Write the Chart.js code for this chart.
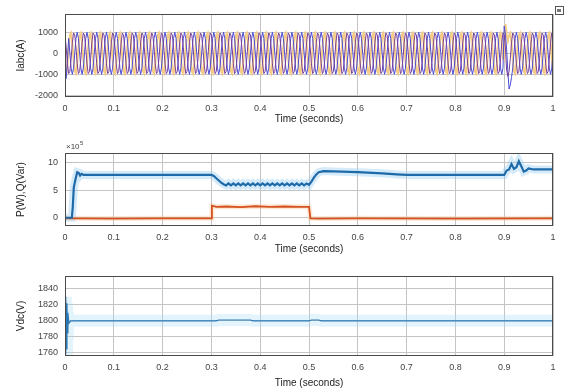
<!DOCTYPE html>
<html>
<head>
<meta charset="utf-8">
<script src="https://cdn.jsdelivr.net/npm/chart.js@4.4.0/dist/chart.umd.min.js"></script>
<style>
body { margin: 0; background: #fff; }
#wrap { position: relative; width: 564px; height: 392px; }
canvas { position: absolute; left: 0; }
</style>
</head>
<body>
<div id="wrap">
<canvas id="iabc" width="564" height="128" style="top:0px"></canvas>
<canvas id="pq" width="564" height="130" style="top:128px"></canvas>
<canvas id="vdc" width="564" height="134" style="top:258px"></canvas>
</div>
<script>
// x axis (seconds)
const X_TICKS = [0, 0.1, 0.2, 0.3, 0.4, 0.5, 0.6, 0.7, 0.8, 0.9, 1];
const X_TICK_LABELS = ['0', '0.1', '0.2', '0.3', '0.4', '0.5', '0.6', '0.7', '0.8', '0.9', '1'];

// three phase currents, one sample every 2.5 ms
const IABC_DT = 0.0025;
const IA = [
	-1100,-1200,-300,707,0,-707,-1000,-707,0,707,1000,707,0,-707,-1000,-707,
	0,707,1000,707,0,-707,-1000,-707,0,707,1000,707,0,-707,-1000,-707,
	0,707,1000,707,0,-707,-1000,-707,0,707,1000,707,0,-707,-1000,-707,
	0,707,1000,707,0,-707,-1000,-707,0,707,1000,707,0,-707,-1000,-707,
	0,707,1000,707,0,-707,-1000,-707,0,707,1000,707,0,-707,-1000,-707,
	0,707,1000,707,0,-707,-1000,-707,0,707,1000,707,0,-707,-1000,-707,
	0,707,1000,707,0,-707,-1000,-707,0,707,1000,707,0,-707,-1000,-707,
	0,707,1000,707,0,-707,-1000,-707,0,707,1000,707,0,-707,-1000,-707,
	0,707,1000,707,0,-707,-1000,-707,0,707,1000,707,0,-707,-1000,-707,
	0,707,1000,707,0,-707,-1000,-707,0,707,1000,707,0,-707,-1000,-707,
	0,707,1000,707,0,-707,-1000,-707,0,707,1000,707,0,-707,-1000,-707,
	0,707,1000,707,0,-707,-1000,-707,0,707,1000,707,0,-707,-1000,-707,
	0,707,1000,707,0,-707,-1000,-707,0,707,1000,707,0,-707,-1000,-707,
	0,707,1000,707,0,-707,-1000,-707,0,707,1000,707,0,-707,-1000,-707,
	0,707,1000,707,0,-707,-1000,-707,0,707,1000,707,0,-707,-1000,-707,
	0,707,1000,707,0,-707,-1000,-707,0,707,1000,707,0,-707,-1000,-707,
	0,707,1000,707,0,-707,-1000,-707,0,707,1000,707,0,-707,-1000,-707,
	0,707,1000,707,0,-707,-1000,-707,0,707,1000,707,0,-707,-1000,-707,
	0,707,1000,707,0,-707,-1000,-707,0,707,1000,707,0,-707,-1000,-707,
	0,707,1000,707,0,-707,-1000,-707,0,707,1000,707,0,-707,-1000,-707,
	0,707,1000,707,0,-707,-1000,-707,0,707,1000,707,0,-707,-1000,-707,
	0,707,1000,707,0,-707,-1000,-707,0,707,1000,707,0,-707,-1000,-707,
	0,707,1000,707,0,-707,-1000,-707,1300,900,200,-900,-1700,-1500,-1150,-707,
	0,707,1000,707,0,-707,-1000,-707,0,707,1000,707,0,-707,-1000,-707,
	0,707,1000,707,0,-707,-1000,-707,0,707,1000,707,0,-707,-1000,-707,
	0
];
const IB = [
	-866,-966,-500,259,866,966,500,-259,-866,-966,-500,259,866,966,500,-259,
	-866,-966,-500,259,866,966,500,-259,-866,-966,-500,259,866,966,500,-259,
	-866,-966,-500,259,866,966,500,-259,-866,-966,-500,259,866,966,500,-259,
	-866,-966,-500,259,866,966,500,-259,-866,-966,-500,259,866,966,500,-259,
	-866,-966,-500,259,866,966,500,-259,-866,-966,-500,259,866,966,500,-259,
	-866,-966,-500,259,866,966,500,-259,-866,-966,-500,259,866,966,500,-259,
	-866,-966,-500,259,866,966,500,-259,-866,-966,-500,259,866,966,500,-259,
	-866,-966,-500,259,866,966,500,-259,-866,-966,-500,259,866,966,500,-259,
	-866,-966,-500,259,866,966,500,-259,-866,-966,-500,259,866,966,500,-259,
	-866,-966,-500,259,866,966,500,-259,-866,-966,-500,259,866,966,500,-259,
	-866,-966,-500,259,866,966,500,-259,-866,-966,-500,259,866,966,500,-259,
	-866,-966,-500,259,866,966,500,-259,-866,-966,-500,259,866,966,500,-259,
	-866,-966,-500,259,866,966,500,-259,-866,-966,-500,259,866,966,500,-259,
	-866,-966,-500,259,866,966,500,-259,-866,-966,-500,259,866,966,500,-259,
	-866,-966,-500,259,866,966,500,-259,-866,-966,-500,259,866,966,500,-259,
	-866,-966,-500,259,866,966,500,-259,-866,-966,-500,259,866,966,500,-259,
	-866,-966,-500,259,866,966,500,-259,-866,-966,-500,259,866,966,500,-259,
	-866,-966,-500,259,866,966,500,-259,-866,-966,-500,259,866,966,500,-259,
	-866,-966,-500,259,866,966,500,-259,-866,-966,-500,259,866,966,500,-259,
	-866,-966,-500,259,866,966,500,-259,-866,-966,-500,259,866,966,500,-259,
	-866,-966,-500,259,866,966,500,-259,-866,-966,-500,259,866,966,500,-259,
	-866,-966,-500,259,866,966,500,-259,-866,-966,-500,259,866,966,500,-259,
	-866,-966,-500,259,866,966,500,-259,-300,1400,900,600,866,966,500,-259,
	-866,-966,-500,259,866,966,500,-259,-866,-966,-500,259,866,966,500,-259,
	-866,-966,-500,259,866,966,500,-259,-866,-966,-500,259,866,966,500,-259,
	-866
];
const IC = [
	866,259,-500,-966,-866,-259,500,966,866,259,-500,-966,-866,-259,500,966,
	866,259,-500,-966,-866,-259,500,966,866,259,-500,-966,-866,-259,500,966,
	866,259,-500,-966,-866,-259,500,966,866,259,-500,-966,-866,-259,500,966,
	866,259,-500,-966,-866,-259,500,966,866,259,-500,-966,-866,-259,500,966,
	866,259,-500,-966,-866,-259,500,966,866,259,-500,-966,-866,-259,500,966,
	866,259,-500,-966,-866,-259,500,966,866,259,-500,-966,-866,-259,500,966,
	866,259,-500,-966,-866,-259,500,966,866,259,-500,-966,-866,-259,500,966,
	866,259,-500,-966,-866,-259,500,966,866,259,-500,-966,-866,-259,500,966,
	866,259,-500,-966,-866,-259,500,966,866,259,-500,-966,-866,-259,500,966,
	866,259,-500,-966,-866,-259,500,966,866,259,-500,-966,-866,-259,500,966,
	866,259,-500,-966,-866,-259,500,966,866,259,-500,-966,-866,-259,500,966,
	866,259,-500,-966,-866,-259,500,966,866,259,-500,-966,-866,-259,500,966,
	866,259,-500,-966,-866,-259,500,966,866,259,-500,-966,-866,-259,500,966,
	866,259,-500,-966,-866,-259,500,966,866,259,-500,-966,-866,-259,500,966,
	866,259,-500,-966,-866,-259,500,966,866,259,-500,-966,-866,-259,500,966,
	866,259,-500,-966,-866,-259,500,966,866,259,-500,-966,-866,-259,500,966,
	866,259,-500,-966,-866,-259,500,966,866,259,-500,-966,-866,-259,500,966,
	866,259,-500,-966,-866,-259,500,966,866,259,-500,-966,-866,-259,500,966,
	866,259,-500,-966,-866,-259,500,966,866,259,-500,-966,-866,-259,500,966,
	866,259,-500,-966,-866,-259,500,966,866,259,-500,-966,-866,-259,500,966,
	866,259,-500,-966,-866,-259,500,966,866,259,-500,-966,-866,-259,500,966,
	866,259,-500,-966,-866,-259,500,966,866,259,-500,-966,-866,-259,500,966,
	866,259,-500,-966,-866,-259,500,966,866,259,-800,-1100,-866,-259,500,966,
	866,259,-500,-966,-866,-259,500,966,866,259,-500,-966,-866,-259,500,966,
	866,259,-500,-966,-866,-259,500,966,866,259,-500,-966,-866,-259,500,966,
	866
];
const IABC_TICKS = [-2000, -1000, 0, 1000];

// active / reactive power (x 1e5)
const P_TIME = [0, 0.014, 0.016, 0.018, 0.02, 0.022, 0.025, 0.028, 0.031, 0.034, 0.038, 0.1, 0.2, 0.3, 0.305, 0.31, 0.315, 0.32, 0.325,
	0.33, 0.335, 0.34, 0.345, 0.35, 0.355, 0.36, 0.365, 0.37, 0.375, 0.38, 0.385, 0.39, 0.395, 0.4, 0.405, 0.41, 0.415,
	0.42, 0.425, 0.43, 0.435, 0.44, 0.445, 0.45, 0.455, 0.46, 0.465, 0.47, 0.475, 0.48, 0.485, 0.49, 0.495,
	0.5, 0.505, 0.51, 0.515, 0.52, 0.53, 0.55, 0.6, 0.65, 0.68, 0.7, 0.8, 0.9, 0.905, 0.91, 0.915, 0.92, 0.925, 0.93, 0.935,
	0.94, 0.945, 0.95, 0.96, 1.0];
const P_VALUES = [0, 0, 2, 5.5, 6.4, 7.2, 8.3, 8.2, 7.7, 8.0, 7.8, 7.8, 7.8, 7.8, 7.6, 7.2, 6.8, 6.4, 6.1,
	5.9, 6.25, 5.9, 6.25, 5.9, 6.25, 5.9, 6.25, 5.9, 6.25, 5.9, 6.25, 5.9, 6.25, 5.9, 6.25, 5.9, 6.25,
	5.9, 6.25, 5.9, 6.25, 5.9, 6.25, 5.9, 6.25, 5.9, 6.25, 5.9, 6.25, 5.9, 6.25, 5.9, 6.25,
	6.0, 6.6, 7.3, 7.9, 8.3, 8.5, 8.45, 8.3, 8.1, 7.9, 7.8, 7.8, 7.8, 8.6, 8.8, 9.8, 8.9, 9.2, 10.3, 9.4,
	8.4, 8.6, 9.0, 8.8, 8.8];
const Q_TIME = [0, 0.1, 0.2, 0.3, 0.301, 0.31, 0.33, 0.36, 0.39, 0.42, 0.45, 0.48, 0.5, 0.503, 0.52, 0.6, 0.8, 1.0];
const Q_VALUES = [-0.1, -0.15, -0.1, -0.1, 2.2, 2.0, 2.05, 1.95, 2.1, 2.0, 2.05, 2.0, 2.0, -0.1, -0.15, -0.1, -0.15, -0.1];
const PQ_TICKS = [0, 5, 10];

// dc link voltage
const VDC_TIME = [0, 0.001, 0.002, 0.003, 0.004, 0.005, 0.006, 0.008, 0.012, 0.31, 0.315, 0.38, 0.385, 0.5, 0.505, 0.52, 0.525, 1.0];
const VDC_VALUES = [1800, 1758, 1830, 1765, 1822, 1785, 1810, 1797, 1800, 1800, 1801, 1801, 1800, 1800, 1801, 1801, 1800, 1800];
const VDC_TICKS = [1760, 1780, 1800, 1820, 1840];

const FONT = 'Liberation Sans, Arial, sans-serif';
const TEXT_COLOR = '#444444';
const GRID_COLOR = '#c4c4c4';

function to_points(times, values) {
	return values.map((v, i) => ({ x: times[i], y: v }));
}

function sampled_points(values, dt) {
	return values.map((v, i) => ({ x: i * dt, y: v }));
}

// axes box like matlab
const boxPlugin = {
	id: 'box',
	afterDraw(chart) {
		const a = chart.chartArea;
		const ctx = chart.ctx;
		ctx.save();
		ctx.strokeStyle = '#4a4a4a';
		ctx.lineWidth = 1;
		ctx.strokeRect(Math.round(a.left) + 0.5, Math.round(a.top) + 0.5, Math.round(a.width) - 1, Math.round(a.height) - 1);
		ctx.restore();
	}
};

function make_config(datasets, o) {
	return {
		type: 'line',
		data: { datasets: datasets },
		options: {
			responsive: false,
			animation: false,
			events: [],
			layout: { padding: { top: o.top, right: 11, left: 0, bottom: 0 } },
			plugins: { legend: { display: false }, tooltip: { enabled: false } },
			elements: { point: { radius: 0 }, line: { tension: 0 } },
			scales: {
				x: {
					type: 'linear',
					min: 0,
					max: 1,
					afterBuildTicks: (axis) => { axis.ticks = X_TICKS.map((v) => ({ value: v })); },
					afterFit: (axis) => { axis.height = o.xHeight; },
					grid: { color: GRID_COLOR, drawTicks: false },
					border: { display: false },
					ticks: {
						padding: 6,
						maxRotation: 0,
						color: TEXT_COLOR,
						font: { family: FONT, size: 9 },
						callback: (v, i) => X_TICK_LABELS[i],
					},
					title: {
						display: true,
						text: 'Time (seconds)',
						color: '#222',
						font: { family: FONT, size: 10 },
						padding: { top: 0, bottom: o.titlePad },
					},
				},
				y: {
					min: o.yMin,
					max: o.yMax,
					afterBuildTicks: (axis) => { axis.ticks = o.yTicks.map((v) => ({ value: v })); },
					afterFit: (axis) => { axis.width = 65; },
					grid: { color: GRID_COLOR, drawTicks: false },
					border: { display: false },
					ticks: {
						padding: 7,
						color: TEXT_COLOR,
						font: { family: FONT, size: 9 },
						callback: (v) => String(v),
					},
					title: {
						display: true,
						text: o.yTitle,
						color: '#222',
						font: { family: FONT, size: 10 },
						padding: { top: 15, bottom: 0 },
					},
				},
			},
		},
		plugins: [boxPlugin].concat(o.plugins || []),
	};
}

// little figure button in the corner
const cornerPlugin = {
	id: 'corner',
	afterDraw(chart) {
		const ctx = chart.ctx;
		ctx.save();
		ctx.strokeStyle = '#555';
		ctx.lineWidth = 1;
		ctx.strokeRect(555.5, 6.5, 8, 8);
		ctx.fillStyle = '#777';
		ctx.fillRect(557, 9, 4, 3);
		ctx.restore();
	}
};

// exponent label above the power axis
const exponentPlugin = {
	id: 'exponent',
	afterDraw(chart) {
		const ctx = chart.ctx;
		const a = chart.chartArea;
		ctx.save();
		ctx.fillStyle = TEXT_COLOR;
		ctx.textBaseline = 'alphabetic';
		ctx.font = '8px ' + FONT;
		ctx.fillText('\u00d710', a.left + 1, a.top - 4);
		const w = ctx.measureText('\u00d710').width;
		ctx.font = '6px ' + FONT;
		ctx.fillText('5', a.left + 1 + w + 0.5, a.top - 8);
		ctx.restore();
	}
};

const config_iabc = make_config([
	{ data: sampled_points(IC, IABC_DT), borderColor: '#7a3f96', borderWidth: 1 },
	{ data: sampled_points(IA, IABC_DT), borderColor: '#4a4ad6', borderWidth: 1 },
	{ data: sampled_points(IB, IABC_DT), borderColor: '#f4cc86', borderWidth: 2 },
], { top: 14, xHeight: 31, titlePad: 3, yMin: -2080, yMax: 1870, yTicks: IABC_TICKS, yTitle: 'Iabc(A)', plugins: [cornerPlugin] });

const config_pq = make_config([
	{ data: to_points(P_TIME, P_VALUES), borderColor: '#1f6aa8', borderWidth: 2.2 },
	{ data: to_points(Q_TIME, Q_VALUES), borderColor: '#d4521e', borderWidth: 1.8 },
	{ data: to_points(P_TIME, P_VALUES), borderColor: 'rgba(150,205,242,0.4)', borderWidth: 8 },
	{ data: to_points(Q_TIME, Q_VALUES), borderColor: 'rgba(248,190,140,0.35)', borderWidth: 5 },
], { top: 25, xHeight: 32, titlePad: 3, yMin: -1.5, yMax: 11.8, yTicks: PQ_TICKS, yTitle: 'P(W),Q(Var)', plugins: [exponentPlugin] });

const config_vdc = make_config([
	{ data: to_points(VDC_TIME, VDC_VALUES), borderColor: '#2a78b5', borderWidth: 1.2 },
	{ data: to_points(VDC_TIME, VDC_VALUES), borderColor: 'rgba(165,218,245,0.3)', borderWidth: 12 },
], { top: 18, xHeight: 36, titlePad: 3, yMin: 1756, yMax: 1856, yTicks: VDC_TICKS, yTitle: 'Vdc(V)' });

const chart_iabc = new Chart(document.getElementById('iabc'), config_iabc);
const chart_pq = new Chart(document.getElementById('pq'), config_pq);
const chart_vdc = new Chart(document.getElementById('vdc'), config_vdc);
</script>
</body>
</html>
